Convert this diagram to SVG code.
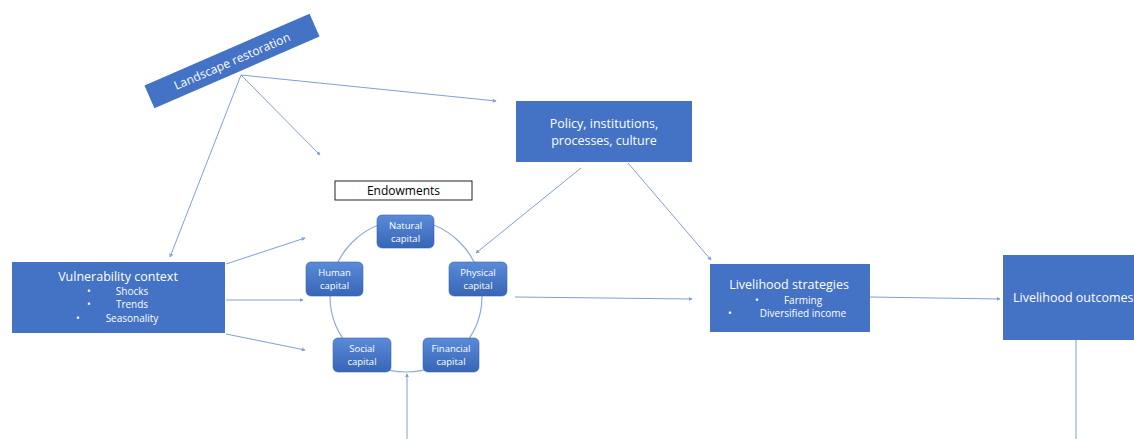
<svg xmlns="http://www.w3.org/2000/svg" width="1134" height="439" viewBox="0 0 1134 439">
<defs>
<linearGradient id="ng" x1="0" y1="0" x2="0" y2="1">
<stop offset="0" stop-color="#5a8ad8"/>
<stop offset="1" stop-color="#3766b6"/>
</linearGradient>
<marker id="ah" viewBox="0 0 6 6" refX="5" refY="3" markerWidth="4" markerHeight="4" orient="auto" markerUnits="userSpaceOnUse">
<path d="M0,0 L6,3 L0,6 z" fill="#7f9fd8"/>
</marker>
</defs>
<style>
.box{fill:#4472c4;}
.node{fill:url(#ng);stroke:#3a64ad;stroke-width:0.6;}
.t{font-family:"Open Sans","Liberation Sans",Arial,sans-serif;fill:#ffffff;text-anchor:middle;}
.big{font-size:12.5px;}
.sm{font-size:10px;}
.nd{font-size:9.5px;}
.c{stroke:#7f9fd8;stroke-width:1;fill:none;}
</style>
<rect width="1134" height="439" fill="#ffffff"/>

<g id="connectors">
<path class="c" d="M241,75 L496,101" marker-end="url(#ah)"/>
<path class="c" d="M241,75 L320,155" marker-end="url(#ah)"/>
<path class="c" d="M241,75 L170,257" marker-end="url(#ah)"/>
<path class="c" d="M226,264 L305,238" marker-end="url(#ah)"/>
<path class="c" d="M226,300 L303,300" marker-end="url(#ah)"/>
<path class="c" d="M226,334 L305,350" marker-end="url(#ah)"/>
<path class="c" d="M581,168 L476,253" marker-end="url(#ah)"/>
<path class="c" d="M628,163 L711,260" marker-end="url(#ah)"/>
<path class="c" d="M515,297 L692,299" marker-end="url(#ah)"/>
<path class="c" d="M870,297 L1000,299" marker-end="url(#ah)"/>
<path class="c" d="M407,439 L407,374" marker-end="url(#ah)"/>
<path class="c" d="M1076,340 L1076,439" stroke-width="1.5"/>
</g>

<g id="endowments">
<circle cx="406" cy="296" r="76" fill="none" stroke="#8eaadb" stroke-width="1.2"/>
<rect x="335" y="181" width="137" height="19" fill="#ffffff" stroke="#222222" stroke-width="1"/>
<text x="403.5" y="195" font-family="Open Sans,Liberation Sans,Arial,sans-serif" font-size="12" fill="#000000" text-anchor="middle">Endowments</text>
</g>

<g id="landscape">
<g transform="translate(232,61) rotate(-23.5)">
<rect x="-90" y="-12.5" width="180" height="25" class="box"/>
<text x="0" y="4.5" class="t" font-size="12">Landscape restoration</text>
</g>
</g>

<g id="vulnerability">
<rect x="12" y="262" width="213" height="71" class="box"/>
<text x="118" y="281" class="t big">Vulnerability context</text>
<text x="89" y="295" class="t sm">•</text><text x="132" y="295" class="t sm">Shocks</text>
<text x="89" y="308" class="t sm">•</text><text x="132" y="308" class="t sm">Trends</text>
<text x="78" y="322" class="t sm">•</text><text x="132" y="322" class="t sm">Seasonality</text>
</g>

<g id="policy">
<rect x="516" y="101" width="176" height="61" class="box"/>
<text x="604" y="128" class="t big">Policy, institutions,</text>
<text x="604" y="145" class="t big">processes, culture</text>
</g>

<g id="natural">
<rect x="377" y="215" width="57" height="33" rx="5" class="node"/>
<text x="405.5" y="229" class="t nd">Natural</text>
<text x="405.5" y="242" class="t nd">capital</text>
</g>
<g id="human">
<rect x="306" y="262" width="57" height="34" rx="5" class="node"/>
<text x="334.5" y="276" class="t nd">Human</text>
<text x="334.5" y="289" class="t nd">capital</text>
</g>
<g id="physical">
<rect x="449" y="262" width="58" height="34" rx="5" class="node"/>
<text x="478" y="276" class="t nd">Physical</text>
<text x="478" y="289" class="t nd">capital</text>
</g>
<g id="social">
<rect x="333" y="338" width="58" height="34" rx="5" class="node"/>
<text x="362" y="352" class="t nd">Social</text>
<text x="362" y="365" class="t nd">capital</text>
</g>
<g id="financial">
<rect x="423" y="338" width="56" height="34" rx="5" class="node"/>
<text x="451" y="352" class="t nd">Financial</text>
<text x="451" y="365" class="t nd">capital</text>
</g>

<g id="strategies">
<rect x="710" y="264" width="160" height="68" class="box"/>
<text x="789" y="289" class="t big">Livelihood strategies</text>
<text x="757" y="304" class="t sm">•</text><text x="803" y="304" class="t sm">Farming</text>
<text x="730" y="317" class="t sm">•</text><text x="803" y="317" class="t sm">Diversified income</text>
</g>

<g id="outcomes">
<rect x="1003" y="255" width="140" height="85" class="box"/>
<text x="1013" y="302" class="t big" style="text-anchor:start">Livelihood outcomes</text>
</g>
</svg>
